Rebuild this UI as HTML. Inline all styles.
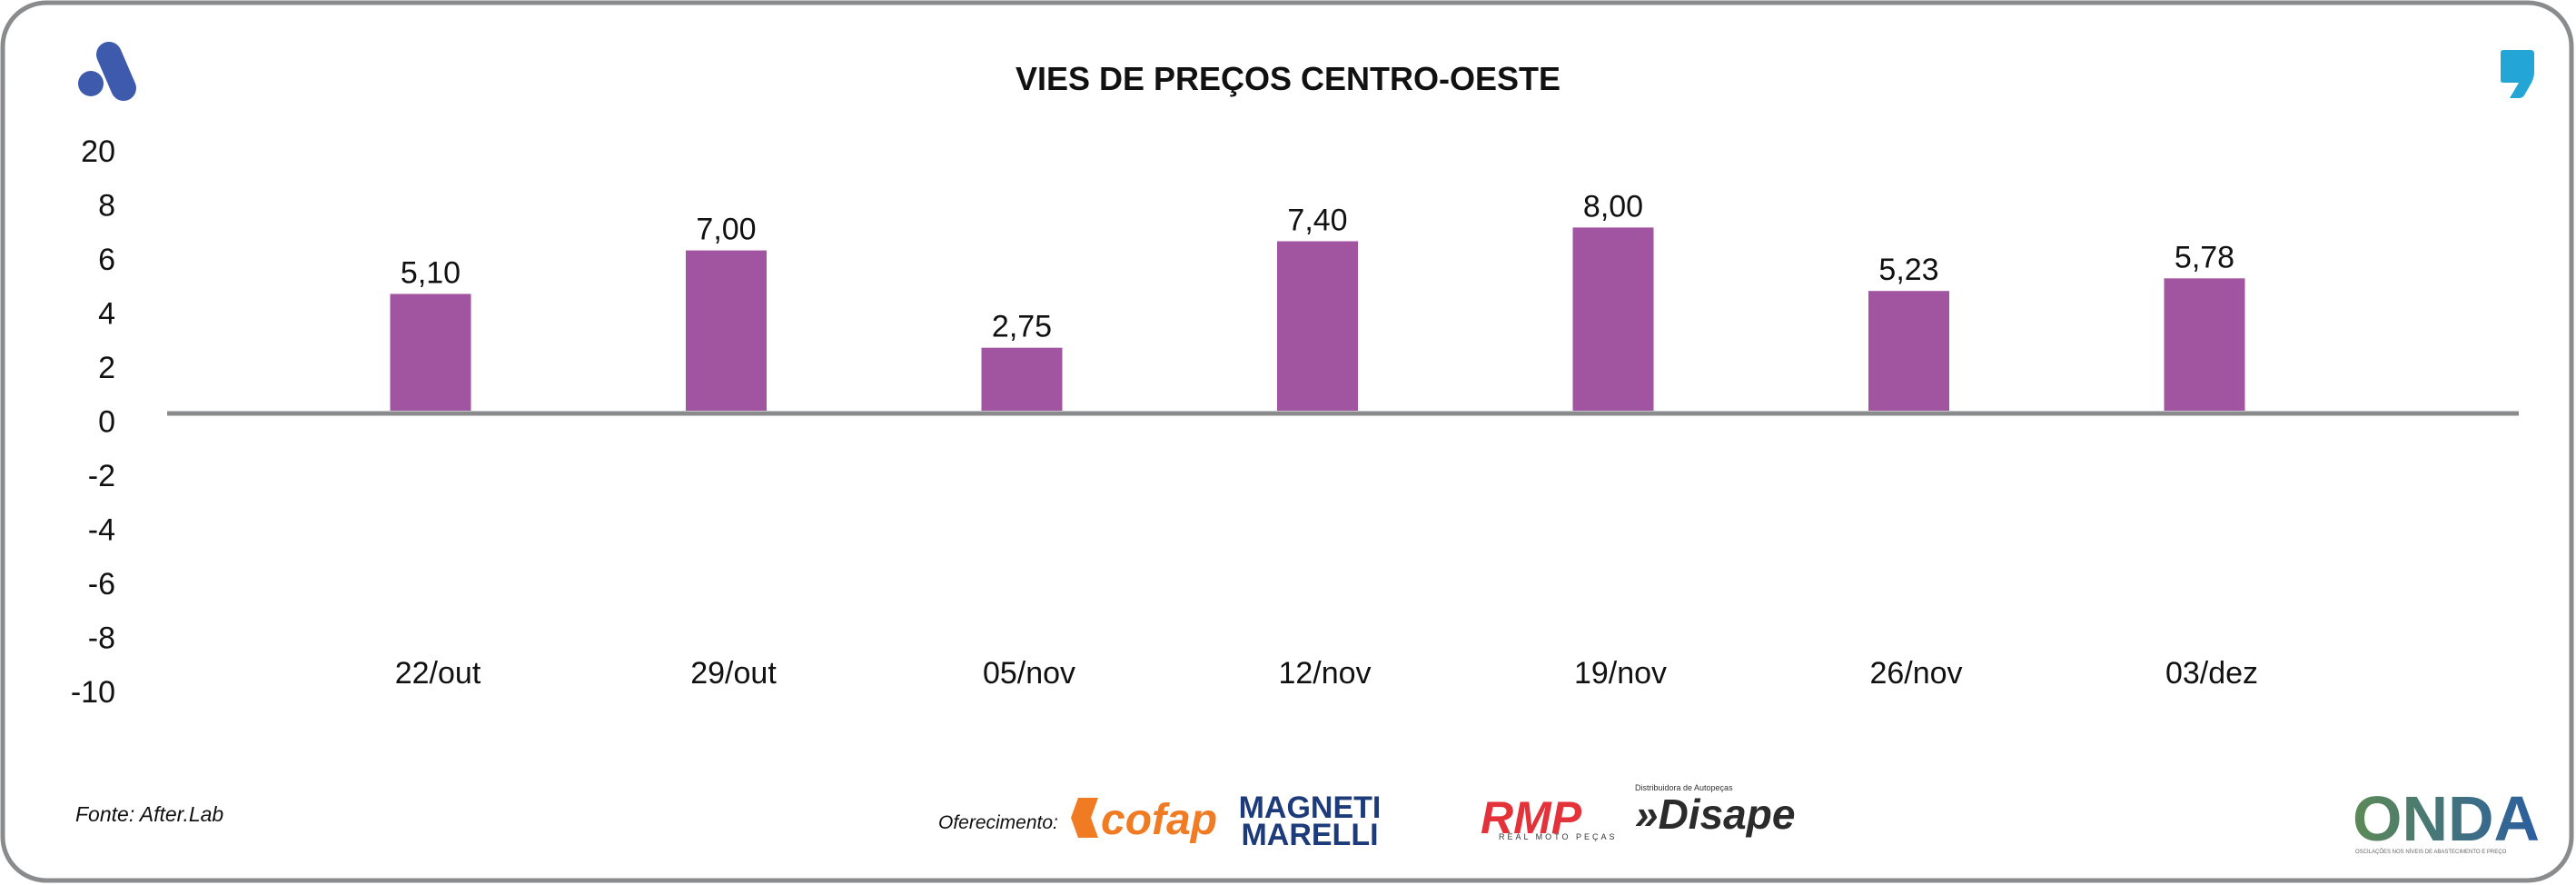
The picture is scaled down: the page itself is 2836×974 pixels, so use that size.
<!DOCTYPE html>
<html><head><meta charset="utf-8"><style>
html,body{margin:0;padding:0;background:#fff;}
svg{display:block;}
text{font-family:"Liberation Sans Narrow","Liberation Sans",sans-serif;}
</style></head><body>
<svg id="chart" width="2836" height="974" viewBox="0 0 2836 974" xmlns="http://www.w3.org/2000/svg">
<rect x="3" y="3" width="2828" height="966" rx="48" fill="#fff" stroke="#8a8b8d" stroke-width="5"/>
<g>
<ellipse cx="100" cy="92" rx="14" ry="14" fill="#3d5aac"/>
<line x1="120" y1="60" x2="136" y2="97" stroke="#3d5aac" stroke-width="28" stroke-linecap="round"/>
</g>
<path d="M2756 55 h30 q4 0 4 4 v20 q0 6 -3 12 l-8 14 q-2 3 -6 3 h-10 l10 -17 h-17 q-3 0 -3 -3 v-30 q0 -3 3 -3z" fill="#23a5d6"/>
<text x="1418" y="99" text-anchor="middle" font-size="36" font-weight="bold" fill="#111">VIES DE PREÇOS CENTRO-OESTE</text>
<g id="yaxis"></g>
<g id="bars"></g>
<line x1="184" y1="455" x2="2773" y2="455" stroke="#8a8b8d" stroke-width="5"/>
<g id="xaxis"></g>
<text x="83" y="904" font-size="23" font-style="italic" fill="#111">Fonte: After.Lab</text>
<text x="1033" y="912" font-size="21" font-style="italic" fill="#111">Oferecimento:</text>
<g>
<path d="M1187 878 h22 l-8 22 l8 22 h-22 l-8 -22z" fill="#f07b22"/>
<text x="1212" y="918" font-size="48" font-weight="bold" font-style="italic" fill="#f07b22" font-family="Liberation Sans">cofap</text>
</g>
<g>
<text x="1442" y="900" text-anchor="middle" font-size="34" font-weight="bold" fill="#1d3b7a">MAGNETI</text>
<text x="1442" y="930" text-anchor="middle" font-size="34" font-weight="bold" fill="#1d3b7a">MARELLI</text>
</g>
<g>
<text x="1630" y="917" font-size="50" font-weight="bold" font-style="italic" fill="#e4323a">RMP</text>
<text x="1650" y="924" font-size="9" fill="#333" letter-spacing="3">REAL MOTO PEÇAS</text>
</g>
<g>
<text x="1800" y="870" font-size="9" fill="#333">Distribuidora de Autopeças</text>
<text x="1800" y="912" font-size="46" font-weight="bold" font-style="italic" fill="#2b2b2b">»Disape</text>
</g>
<g>
<defs><linearGradient id="og" x1="0" x2="1"><stop offset="0" stop-color="#5d8a56"/><stop offset="1" stop-color="#2b5ea0"/></linearGradient></defs>
<text x="2590" y="925" font-size="70" font-weight="bold" fill="url(#og)" font-family="Liberation Sans Narrow,Liberation Sans">ONDA</text>
<text x="2593" y="939" font-size="6" fill="#666">OSCILAÇÕES NOS NÍVEIS DE ABASTECIMENTO E PREÇO</text>
</g>
<script>
const categories = ["22/out","29/out","05/nov","12/nov","19/nov","26/nov","03/dez"];
const values = [5.10, 7.00, 2.75, 7.40, 8.00, 5.23, 5.78];
const valueLabels = ["5,10","7,00","2,75","7,40","8,00","5,23","5,78"];
const yTicks = [20, 8, 6, 4, 2, 0, -2, -4, -6, -8, -10];

const NS = "http://www.w3.org/2000/svg";
const zeroY = 452;
const unit = 25.2;
function yScale(v){ return zeroY - v * unit; }
const x0 = 474, step = 325.5;
function xScale(i){ return x0 + i * step; }
const barW = 89;

const ya = document.getElementById('yaxis');
yTicks.forEach((t, i) => {
  const el = document.createElementNS(NS, 'text');
  el.setAttribute('x', 127);
  el.setAttribute('y', 178 + i * 59.5);
  el.setAttribute('text-anchor', 'end');
  el.setAttribute('font-size', '34');
  el.setAttribute('fill', '#111');
  el.textContent = String(t);
  
  
  ya.appendChild(el);
});

const bg = document.getElementById('bars');
const xa = document.getElementById('xaxis');
categories.forEach((c, i) => {
  const cx = xScale(i);
  const top = yScale(values[i]);
  const r = document.createElementNS(NS, 'rect');
  r.setAttribute('x', cx - barW / 2);
  r.setAttribute('y', top);
  r.setAttribute('width', barW);
  r.setAttribute('height', zeroY - top);
  r.setAttribute('fill', '#a155a0');
  
  
  bg.appendChild(r);
  const lb = document.createElementNS(NS, 'text');
  lb.setAttribute('x', cx);
  lb.setAttribute('y', top - 12);
  lb.setAttribute('text-anchor', 'middle');
  lb.setAttribute('font-size', '34');
  lb.setAttribute('fill', '#111');
  lb.textContent = valueLabels[i];
  
  
  bg.appendChild(lb);
  const xl = document.createElementNS(NS, 'text');
  xl.setAttribute('x', cx + 8);
  xl.setAttribute('y', 752);
  xl.setAttribute('text-anchor', 'middle');
  xl.setAttribute('font-size', '34');
  xl.setAttribute('fill', '#111');
  xl.textContent = c;
  
  
  xa.appendChild(xl);
});
</script>
</svg>
</body></html>
